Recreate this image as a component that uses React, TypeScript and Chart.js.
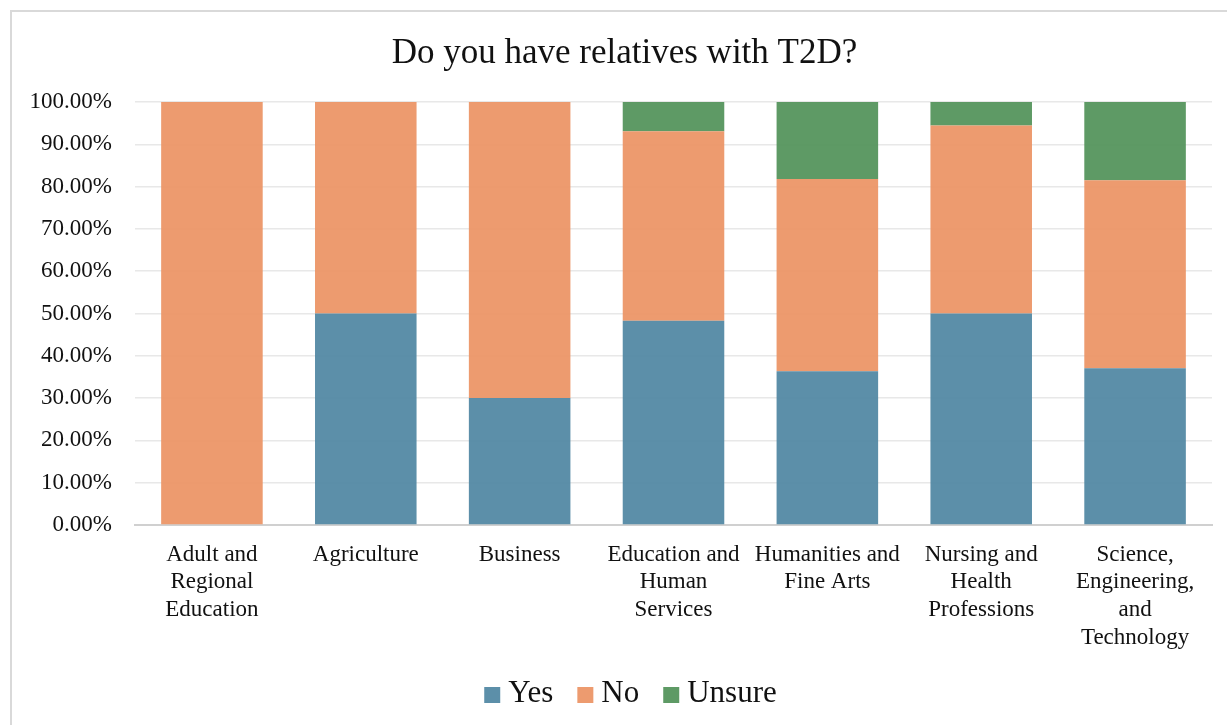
import React, { useEffect, useRef } from "react";
import { Chart, registerables } from "chart.js";

Chart.register(...registerables);

// Colleges surveyed
const categories: string[][] = [
  ["Adult and", "Regional", "Education"],
  ["Agriculture"],
  ["Business"],
  ["Education and", "Human", "Services"],
  ["Humanities and", "Fine Arts"],
  ["Nursing and", "Health", "Professions"],
  ["Science,", "Engineering,", "and", "Technology"],
];

// Share of respondents per answer (percent)
const yesValues = [0, 50, 30, 48.28, 36.36, 50, 37.04];
const noValues = [100, 50, 70, 44.83, 45.45, 44.44, 44.44];
const unsureValues = [0, 0, 0, 6.9, 18.18, 5.56, 18.52];

const chartTitle = "Do you have relatives with T2D?";
const FONT = "'Liberation Serif', 'Times New Roman', serif";

// Compact legend centred under the plot: square swatch, short gap, label
const bottomLegend = {
  id: "bottomLegend",
  afterDraw(chart: any) {
    const { ctx, width, height } = chart;
    const box = 16;
    const boxGap = 8;
    const itemGap = 24;
    const y = height - 30;
    ctx.save();
    ctx.font = `31px ${FONT}`;
    ctx.textBaseline = "middle";
    const items = chart.data.datasets.map((d: any) => ({
      label: d.label,
      color: d.backgroundColor,
      w: ctx.measureText(d.label).width,
    }));
    const total =
      items.reduce((s: number, it: any) => s + box + boxGap + it.w, 0) +
      itemGap * (items.length - 1);
    let x = (width - total) / 2 + 6;
    items.forEach((it: any) => {
      ctx.fillStyle = it.color;
      ctx.fillRect(x, y - box / 2 + 1, box, box);
      ctx.fillStyle = "#111";
      ctx.fillText(it.label, x + box + boxGap, y);
      x += box + boxGap + it.w + itemGap;
    });
    ctx.restore();
  },
};

export default function App() {
  const canvasRef = useRef<HTMLCanvasElement | null>(null);

  useEffect(() => {
    const ctx = canvasRef.current;
    if (!ctx) return;
    const chart = new Chart(ctx, {
      type: "bar",
      data: {
        labels: categories,
        datasets: [
          { label: "Yes", data: yesValues, backgroundColor: "rgba(78,134,162,0.92)" },
          { label: "No", data: noValues, backgroundColor: "rgba(236,146,99,0.92)" },
          { label: "Unsure", data: unsureValues, backgroundColor: "rgba(80,145,88,0.92)" },
        ],
      },
      plugins: [bottomLegend],
      options: {
        responsive: false,
        animation: false,
        layout: { padding: { left: 0, right: 0, top: 0, bottom: 62 } },
        datasets: { bar: { categoryPercentage: 0.66, barPercentage: 1 } },
        scales: {
          x: {
            stacked: true,
            grid: { display: false, drawTicks: false },
            border: { display: true, color: "#d0d0d0", width: 2 },
            ticks: {
              color: "#111",
              font: { family: FONT, size: 23, lineHeight: 1.2 },
              padding: 16,
              maxRotation: 0,
              autoSkip: false,
            },
            afterFit: (s: any) => { s.height = 137; },
          },
          y: {
            stacked: true,
            min: 0,
            max: 100,
            grid: { color: "#e8e8e8", lineWidth: 1.5, drawTicks: false },
            border: { display: false },
            ticks: {
              stepSize: 10,
              color: "#111",
              padding: 23,
              font: { family: FONT, size: 23 },
              callback: (v: any) => Number(v).toFixed(2) + "%",
            },
            afterFit: (s: any) => { s.width = 123; },
          },
          // blank right-hand margin so the title stays centred on the whole frame
          yRight: {
            position: "right",
            min: 0,
            max: 100,
            grid: { display: false, drawTicks: false },
            border: { display: false },
            ticks: { display: false },
            afterFit: (s: any) => { s.width = 25; },
          },
        },
        plugins: {
          title: {
            display: true,
            text: chartTitle,
            color: "#111",
            font: { family: FONT, size: 35, weight: "normal", lineHeight: 1.2 },
            padding: { top: 21, bottom: 27 },
          },
          legend: { display: false },
          tooltip: { enabled: false },
        },
      },
    });
    return () => chart.destroy();
  }, []);

  return (
    <div
      style={{
        position: "absolute",
        left: 10,
        top: 10,
        width: 1240,
        height: 730,
        border: "2px solid #d9d9d9",
        boxSizing: "border-box",
        background: "#fff",
      }}
    >
      <canvas ref={canvasRef} width={1225} height={712} />
    </div>
  );
}
